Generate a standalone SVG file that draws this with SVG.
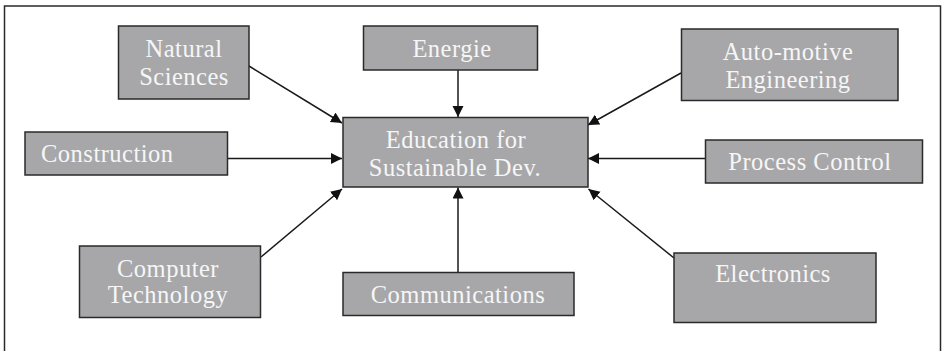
<svg xmlns="http://www.w3.org/2000/svg" width="944" height="351" viewBox="0 0 944 351">
<style>
.box{fill:#a7a7a9;stroke:#2a2a2a;stroke-width:1.5}
.lbl{font-family:"Liberation Serif","Times New Roman",serif;font-size:24.5px;fill:#f6f6f6;letter-spacing:0.5px}
.c{text-anchor:middle}
.conn line{stroke:#1a1a1a;stroke-width:1.5;marker-end:url(#ah)}
</style>
<defs>
<marker id="ah" markerUnits="userSpaceOnUse" markerWidth="12" markerHeight="12" refX="11" refY="5.5" orient="auto">
<path d="M0,0 L11,5.5 L0,11 z" fill="#111"/>
</marker>
</defs>
<rect x="0" y="0" width="944" height="351" fill="#fff"/>
<rect x="4.5" y="6" width="936" height="360" fill="none" stroke="#2a2a2a" stroke-width="1.5"/>
<g class="conn" id="connectors">
<line x1="249" y1="66" x2="342" y2="123"/>
<line x1="458" y1="70" x2="458" y2="117"/>
<line x1="681" y1="73" x2="588" y2="125"/>
<line x1="227" y1="158.5" x2="342" y2="158.5"/>
<line x1="705" y1="158.5" x2="588" y2="158.5"/>
<line x1="261" y1="257" x2="342" y2="189"/>
<line x1="458" y1="272" x2="458" y2="187.5"/>
<line x1="674" y1="258" x2="588.5" y2="189"/>
</g>
<g id="center">
<rect class="box" x="343" y="117.5" width="245" height="69.5"/>
<text class="lbl c" x="456" y="148">Education for</text>
<text class="lbl c" x="455" y="176">Sustainable Dev.</text>
</g>
<g id="natural-sciences">
<rect class="box" x="118.5" y="26" width="130.5" height="73"/>
<text class="lbl c" x="184" y="57">Natural</text>
<text class="lbl c" x="184" y="85">Sciences</text>
</g>
<g id="energie">
<rect class="box" x="363.5" y="26" width="174" height="44"/>
<text class="lbl c" x="452" y="57">Energie</text>
</g>
<g id="automotive">
<rect class="box" x="681.5" y="29" width="216.5" height="71.5"/>
<text class="lbl c" x="788" y="60">Auto-motive</text>
<text class="lbl c" x="788" y="88">Engineering</text>
</g>
<g id="construction">
<rect class="box" x="25" y="132" width="202.5" height="43"/>
<text class="lbl" x="41" y="162">Construction</text>
</g>
<g id="process-control">
<rect class="box" x="705.5" y="140" width="217" height="43"/>
<text class="lbl c" x="810" y="170">Process Control</text>
</g>
<g id="computer-technology">
<rect class="box" x="79.5" y="246" width="181" height="71.5"/>
<text class="lbl c" x="168" y="277">Computer</text>
<text class="lbl c" x="168" y="303">Technology</text>
</g>
<g id="communications">
<rect class="box" x="343" y="272.5" width="231" height="43"/>
<text class="lbl c" x="458" y="303">Communications</text>
</g>
<g id="electronics">
<rect class="box" x="674" y="253" width="202" height="69.5"/>
<text class="lbl c" x="773" y="282">Electronics</text>
</g>
</svg>
